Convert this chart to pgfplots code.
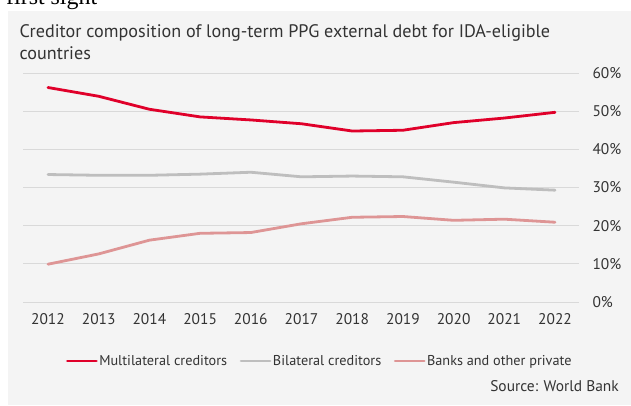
\documentclass[border=0pt]{standalone}
\usepackage{pgfplots}
\pgfplotsset{compat=1.18}
\usepackage{fontspec}
\setmainfont{PT Sans}
\newfontfamily\seriffont{Liberation Serif}
\definecolor{bgcol}{HTML}{F4F4F4}
\definecolor{gridcol}{HTML}{D9D9D9}
\definecolor{txtcol}{HTML}{333333}
\definecolor{redcol}{HTML}{E0002A}
\definecolor{graycol}{HTML}{BEBEBE}
\definecolor{pinkcol}{HTML}{DE9595}
\begin{document}
\begin{tikzpicture}[x=1bp,y=1bp]
\useasboundingbox (0,0) rectangle (631,405);
\begin{scope}
\clip (0,0) rectangle (631,405);
\node[anchor=base west, inner sep=0, font=\seriffont\fontsize{24}{24}\selectfont, text=black] at (6,400) {first sight};
\end{scope}
\fill[bgcol] (8,0) rectangle (631,394);
\node[anchor=base west, inner sep=0, text=txtcol, font=\fontsize{18.2}{22}\selectfont] at (19.5,368) {Creditor composition of long-term PPG external debt for IDA-eligible};
\node[anchor=base west, inner sep=0, text=txtcol, font=\fontsize{18.2}{22}\selectfont] at (19.5,346) {countries};
\node[anchor=base east, inner sep=0, text=txtcol, font=\fontsize{15.5}{18}\selectfont] at (619,14) {Source: World Bank};
\begin{axis}[
  at={(23bp,103bp)}, anchor=south west,
  scale only axis, width=556bp, height=229bp,
  xmin=2011.507, xmax=2022.473, ymin=0, ymax=60,
  axis line style={draw=none},
  major tick length=0pt,
  ymajorgrids, grid style={gridcol, line width=1bp},
  xtick={2012,2013,2014,2015,2016,2017,2018,2019,2020,2021,2022},
  xticklabels={2012,2013,2014,2015,2016,2017,2018,2019,2020,2021,2022},
  ytick={0,10,20,30,40,50,60},
  yticklabels={0\%,10\%,20\%,30\%,40\%,50\%,60\%},
  yticklabel pos=right,
  /pgf/number format/assume math mode=true,
  ticklabel style={text=txtcol, font=\fontsize{15.5}{18}\selectfont},
  yticklabel style={anchor=west, xshift=10bp},
  xticklabel style={anchor=north, yshift=-8bp},
  legend columns=3,
  legend style={at={(0.0773,-0.2576)}, anchor=west, draw=none, fill=none,
    font=\fontsize{14.3}{17}\selectfont, text=txtcol,
    inner sep=0pt, outer sep=0pt,
    nodes={inner sep=1.5bp},
    /tikz/every even column/.append style={column sep=11bp}},
  legend image code/.code={\draw[#1] (0bp,0bp) -- (29bp,0bp);},
  every axis plot/.append style={line width=2.8bp, line join=round, line cap=round},
]
\addplot[redcol] coordinates {(2012,56.2) (2013,53.9) (2014,50.5) (2015,48.5) (2016,47.7) (2017,46.7) (2018,44.8) (2019,45.0) (2020,47.0) (2021,48.2) (2022,49.7)};
\addlegendentry{Multilateral creditors}
\addplot[graycol] coordinates {(2012,33.4) (2013,33.2) (2014,33.2) (2015,33.5) (2016,34.0) (2017,32.8) (2018,33.0) (2019,32.8) (2020,31.4) (2021,29.9) (2022,29.3)};
\addlegendentry{Bilateral creditors}
\addplot[pinkcol] coordinates {(2012,9.9) (2013,12.6) (2014,16.2) (2015,18.0) (2016,18.2) (2017,20.5) (2018,22.2) (2019,22.4) (2020,21.4) (2021,21.7) (2022,20.9)};
\addlegendentry{Banks and other private}
\end{axis}
\end{tikzpicture}
\end{document}
